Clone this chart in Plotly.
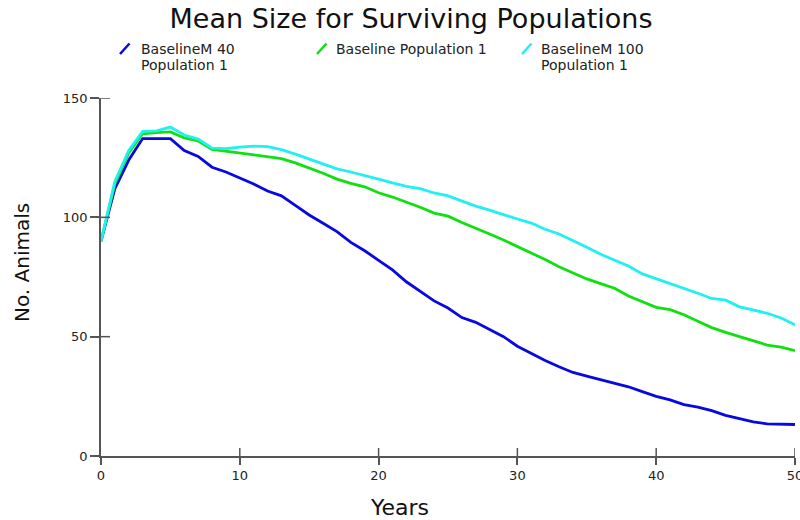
import plotly.graph_objects as go

years = list(range(0, 51))

baseline_m40 = [90, 112, 124, 133, 133, 133, 128, 125.5, 121, 119,
                116.5, 114, 111, 109, 105, 101, 97.5, 94, 89.5, 86,
                82, 78, 73, 69, 65, 62, 58, 56, 53, 50,
                46, 43, 40, 37.4, 35, 33.5, 32, 30.5, 29, 27,
                25, 23.5, 21.5, 20.5, 19, 17, 15.5, 14.3, 13.5, 13.2, 13.2]

baseline = [90, 114, 127, 135, 135.5, 135.8, 133.3, 132, 128.5, 127.7,
            127.2, 126.3, 125.6, 124.6, 122.8, 120.8, 118.5, 116, 114.2, 112.8,
            110.3, 108.5, 106.5, 104.2, 101.8, 100.5, 97.8, 95.5, 93, 90.5,
            87.8, 85, 82.3, 79.3, 76.6, 74.2, 72.2, 70.3, 67, 64.5,
            62.3, 61.3, 59.2, 56.5, 53.8, 51.8, 50, 48.5, 46.5, 45.6, 44.1]

baseline_m100 = [90, 115, 128, 136, 136.2, 137.8, 134.5, 132.8, 129, 128.8,
                 129.4, 129.8, 129.6, 128.4, 126.5, 124.5, 122.5, 120.3, 119, 117.6,
                 116, 114.4, 113, 112, 110.2, 109, 106.8, 104.7, 103, 101,
                 99.3, 97.6, 95, 93, 90.3, 87.5, 84.5, 82, 79.6, 76.3,
                 74.3, 72.3, 70.5, 68.2, 66, 65.3, 62.5, 61.2, 59.8, 57.8, 55]

series_names = ["BaselineM 40\nPopulation 1", "Baseline Population 1", "BaselineM 100\nPopulation 1"]
series_values = [baseline_m40, baseline, baseline_m100]
series_colors = ["#0808e0", "#10e010", "#20f0f0"]

x_ticks = [0, 10, 20, 30, 40, 50]
y_ticks = [0, 50, 100, 150]

title_text = "Mean Size for Surviving Populations"
x_title = "Years"
y_title = "No. Animals"

FONT = "DejaVu Sans"
AXC = "#555555"
W, H = 800, 520
ML, MR, MT, MB = 101, 5, 98, 64
PW, PH = W - ML - MR, H - MT - MB

def px_to_paper_x(px):
    return (px - ML) / PW

def px_to_paper_y(py):
    return (H - MB - py) / PH

fig = go.Figure()
for name, vals, col in zip(series_names, series_values, series_colors):
    fig.add_trace(go.Scatter(x=years, y=vals, mode="lines", name=name.replace("\n", " "),
                             line=dict(color=col, width=2.8), showlegend=False,
                             hoverinfo="skip"))

axis_common = dict(showgrid=False, zeroline=False, showline=True, linecolor=AXC,
                   linewidth=1.5, tickcolor=AXC, tickwidth=1.5, ticklabeloverflow="allow",
                   automargin=False,
                   tickfont=dict(family=FONT, size=13, color="#222222"))

fig.update_layout(
    width=W, height=H,
    margin=dict(l=ML, r=MR, t=MT, b=MB, pad=0, autoexpand=False),
    paper_bgcolor="white", plot_bgcolor="white",
    title=dict(text=title_text, x=411 / W, xref="container", xanchor="center",
               y=1 - 19 / H, yref="container", yanchor="middle",
               font=dict(family=FONT, size=27, color="#111111")),
    xaxis=dict(range=[0, 50.001], tickvals=x_ticks, ticks="outside", ticklen=7,
               **axis_common),
    yaxis=dict(range=[0, 150.001], tickvals=y_ticks, ticks="outside", ticklen=9,
               **axis_common),
    showlegend=False,
)

# inner halves of the tick marks (ticks cross the axis line in the reference)
for t in x_ticks[1:]:
    fig.add_shape(type="line", xref="x", yref="y", ysizemode="pixel", yanchor=0,
                  x0=t, x1=t, y0=0, y1=8, line=dict(color=AXC, width=1.5))
for t in y_ticks[1:]:
    fig.add_shape(type="line", xref="x", yref="y", xsizemode="pixel", xanchor=0,
                  x0=0, x1=9, y0=t, y1=t, line=dict(color=AXC, width=1.5))

# axis titles
fig.add_annotation(text=x_title, xref="paper", yref="paper",
                   x=px_to_paper_x(399), y=px_to_paper_y(507), xanchor="center", yanchor="middle",
                   showarrow=False, font=dict(family=FONT, size=22, color="#111111"))
fig.add_annotation(text=y_title, xref="paper", yref="paper", textangle=-90,
                   x=px_to_paper_x(22), y=px_to_paper_y(263), xanchor="center", yanchor="middle",
                   showarrow=False, font=dict(family=FONT, size=20, color="#111111"))

# legend (custom, with slanted glyphs)
legend_glyph_x = [120, 317, 522]
legend_text_x = [139, 334, 539]
for gx, tx, name, col in zip(legend_glyph_x, legend_text_x, series_names, series_colors):
    fig.add_shape(type="line", xref="paper", yref="paper",
                  x0=px_to_paper_x(gx), y0=px_to_paper_y(54),
                  x1=px_to_paper_x(gx + 9.5), y1=px_to_paper_y(43.5),
                  line=dict(color=col, width=2.5))
    for i, line in enumerate(name.split("\n")):
        fig.add_annotation(text=line, xref="paper", yref="paper",
                           x=px_to_paper_x(tx), y=px_to_paper_y(48.5 + 16 * i),
                           xanchor="left", yanchor="middle", showarrow=False,
                           font=dict(family=FONT, size=14, color="#222222"))

fig.write_html("out.html")
